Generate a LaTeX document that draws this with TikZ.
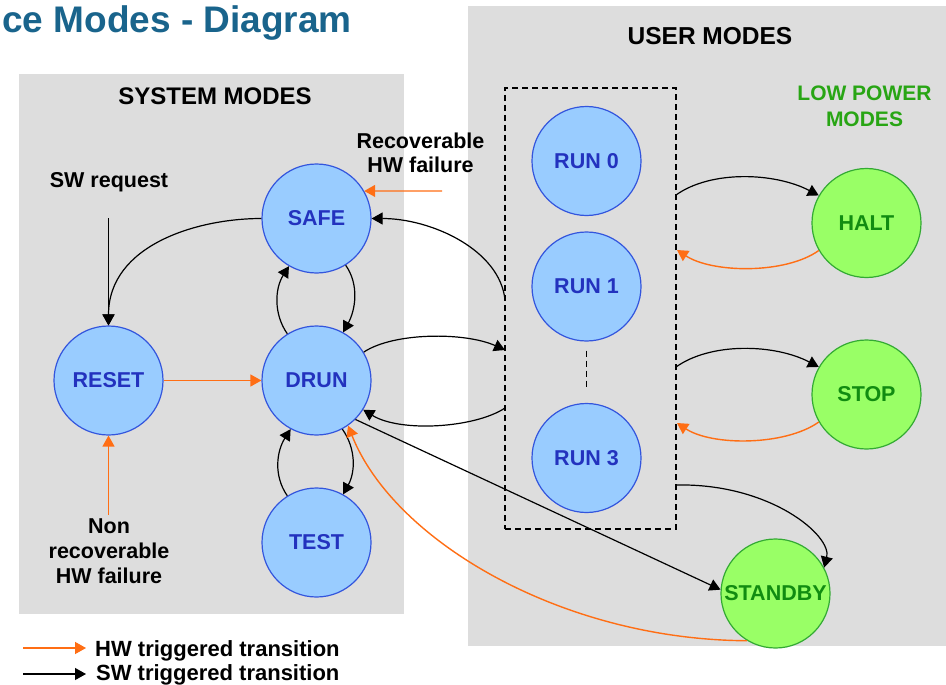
\documentclass[tikz,border=0pt]{standalone}
\usepackage{fontspec}
\setmainfont{Liberation Sans}
\usetikzlibrary{arrows.meta}

\definecolor{panelgray}{RGB}{221,221,221}
\definecolor{bluefill}{RGB}{153,204,255}
\definecolor{blueedge}{RGB}{51,85,221}
\definecolor{bluetext}{RGB}{35,50,190}
\definecolor{greenfill}{RGB}{153,255,102}
\definecolor{greenedge}{RGB}{51,170,51}
\definecolor{greentext}{RGB}{17,140,17}
\definecolor{lowpower}{RGB}{40,165,20}
\definecolor{hworange}{RGB}{255,110,20}
\definecolor{titleblue}{RGB}{25,100,140}

\newcommand\fsz[1]{\fontsize{#1}{#1}\selectfont\bfseries}

\tikzset{
  panel/.style={fill=panelgray, draw=none},
  state/.style={circle, line width=1.2pt, minimum size=109pt, inner sep=0pt, font=\fsz{21.5}},
  bluestate/.style={state, draw=blueedge, fill=bluefill, text=bluetext},
  greenstate/.style={state, draw=greenedge, fill=greenfill, text=greentext},
  tip/.style={-{Triangle[length=11pt,width=12pt]}},
  swarrow/.style={tip, draw=black, line width=1.2pt},
  hwarrow/.style={tip, draw=hworange, line width=1.4pt},
  lbl/.style={inner sep=0pt, font=\fsz{21.5}, align=center},
}

\begin{document}
\begin{tikzpicture}[x=1pt, y=-1pt]
  % canvas
  \useasboundingbox[fill=white] (0,0) rectangle (946,685);

  % panels
  \fill[panel] (19,74) rectangle (404,614);
  \fill[panel] (468,6) rectangle (946,646);

  % title and panel headings
  \node[anchor=base west, inner sep=0pt, text=titleblue, font=\fsz{37}] (title) at (2,33) {ce Modes - Diagram};
  \node[anchor=base, inner sep=0pt, font=\fsz{24}] (syshead) at (215,104) {SYSTEM MODES};
  \node[anchor=base, inner sep=0pt, font=\fsz{24.5}] (userhead) at (710,45) {USER MODES};
  \node[anchor=base, inner sep=0pt, font=\fsz{21}, text=lowpower] (lp1) at (864.5,101) {LOW POWER};
  \node[anchor=base, inner sep=0pt, font=\fsz{21}, text=lowpower] (lp2) at (864.5,127) {MODES};

  % run-mode group
  \node[draw, dash pattern=on 6pt off 4pt, line width=1.1pt, minimum width=171pt, minimum height=441pt, inner sep=0pt] (runbox) at (590.5,308.5) {};

  % states
  \node[bluestate] (safe)  at (316.5,218.5) {SAFE};
  \node[bluestate] (reset) at (108.5,380.5) {RESET};
  \node[bluestate] (drun)  at (316.5,380.5) {DRUN};
  \node[bluestate] (test)  at (316.5,542.5) {TEST};
  \node[bluestate] (run0)  at (586.5,161) {RUN 0};
  \node[bluestate] (run1)  at (586.5,286.5) {RUN 1};
  \node[bluestate] (run3)  at (586.5,458) {RUN 3};
  \node[greenstate] (halt)    at (866.5,223) {HALT};
  \node[greenstate] (stop)    at (866.5,394.5) {STOP};
  \node[greenstate] (standby) at (775.5,593.5) {STANDBY};

  % RUN 1 ... RUN 3
  \draw[dash pattern=on 6pt off 4pt, line width=1.1pt] ([yshift=-9pt]run1.south) -- ([yshift=14pt]run3.north);

  % external labels
  \node[lbl, anchor=base] (swreq) at (109,187) {SW request};
  \node[lbl, anchor=base] (rec1) at (420.5,148) {Recoverable};
  \node[lbl, anchor=base] (rec2) at (420.5,172) {HW failure};
  \node[lbl, anchor=base] (nr1) at (109,533) {Non};
  \node[lbl, anchor=base] (nr2) at (109,558) {recoverable};
  \node[lbl, anchor=base] (nr3) at (109,583) {HW failure};

  % connector end points
  \coordinate (swsrc)  at (108.5,218);
  \coordinate (nrsrc)  at (108.5,515);
  \coordinate (recsrc) at (442,191);
  \coordinate (boxToSafe)  at (505,300);
  \coordinate (boxFromDrun) at (505,350);
  \coordinate (boxToDrun)  at (505,408);
  \coordinate (boxHaltOut) at (676,195);
  \coordinate (boxHaltIn)  at (677,250);
  \coordinate (boxStopOut) at (676,367);
  \coordinate (boxStopIn)  at (677,423);
  \coordinate (boxStbyOut) at (676,485);

  % system mode transitions
  \draw[swarrow] (swsrc) -- (reset.90);
  \draw[swarrow] (safe.180) .. controls +(-65,0) and +(0,-80) .. (reset.90);
  \draw[hwarrow] (reset.0) -- (drun.180);
  \draw[hwarrow] (nrsrc) -- (reset.-90);
  \draw[hwarrow] (recsrc) -- (safe.30);
  \draw[swarrow] (drun.122) .. controls +(-14,-20) and +(-14,22) .. (safe.240);
  \draw[swarrow] (safe.-58) .. controls +(14,20) and +(12,-22) .. (drun.61);
  \draw[swarrow] (test.122) .. controls +(-14,-20) and +(-14,22) .. (drun.-118);
  \draw[swarrow] (drun.-62) .. controls +(14,20) and +(12,-22) .. (test.61);

  % between system and user modes
  \draw[swarrow] (boxToSafe) .. controls +(-5,-50) and +(60,0) .. (safe.0);
  \draw[swarrow] (drun.31) .. controls +(30,-20) and +(-40,-18) .. (boxFromDrun);
  \draw[swarrow] (boxToDrun) .. controls +(-30,20) and +(37,23) .. (drun.-32);
  \draw[swarrow] (drun.-45) -- (standby.176);
  \draw[hwarrow] (standby.-121) .. controls +(-187,-1) and +(45,114) .. (drun.-55);

  % low power transitions
  \draw[swarrow] (boxHaltOut) .. controls +(35,-25) and +(-44,-23) .. (halt.150);
  \draw[hwarrow] (halt.210) .. controls +(-34,24) and +(35,23) .. (boxHaltIn);
  \draw[swarrow] (boxStopOut) .. controls +(35,-25) and +(-44,-23) .. (stop.150);
  \draw[hwarrow] (stop.210) .. controls +(-34,24) and +(35,23) .. (boxStopIn);
  \draw[swarrow] (boxStbyOut) .. controls +(94,-2) and +(8,-32) .. (standby.28);

  % legend
  \coordinate (hwA) at (23,648);
  \coordinate (hwB) at (86,648);
  \coordinate (swA) at (23,674);
  \coordinate (swB) at (86,674);
  \draw[hwarrow] (hwA) -- (hwB);
  \draw[swarrow] (swA) -- (swB);
  \node[lbl, anchor=base west, font=\fsz{22}] (hwtxt) at (95,656) {HW triggered transition};
  \node[lbl, anchor=base west, font=\fsz{22}] (swtxt) at (96,680) {SW triggered transition};
\end{tikzpicture}
\end{document}
